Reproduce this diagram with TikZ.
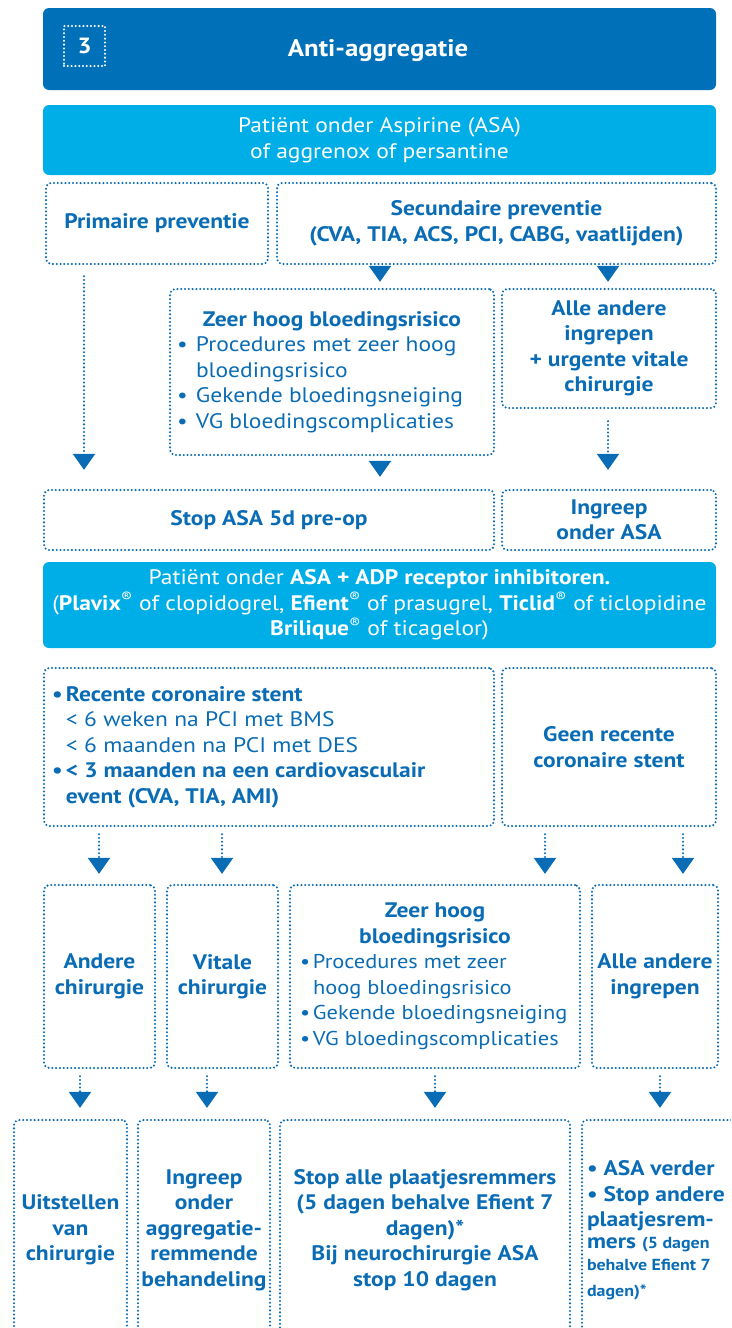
\documentclass[tikz,border=0pt]{standalone}
\usepackage{fontspec}
\setmainfont{PT Sans}[FakeStretch=1.12]
\usetikzlibrary{arrows.meta}
\definecolor{dblue}{HTML}{0070B9}
\definecolor{lblue}{HTML}{00AEE7}
\definecolor{tblue}{HTML}{0A6CB4}
\newcommand\fsz{\fontsize{21}{25.5}\selectfont}
\newcommand\bul{\makebox[19pt][l]{\textbullet}}
\newcommand\bulb{\makebox[13pt][l]{\textbullet}}
\tikzset{
  dots/.style={line width=2.3pt, dash pattern=on 0pt off 3.8pt, line cap=round},
  dbox/.style={draw=tblue, dots, rounded corners=5pt, text=tblue, font=\bfseries\fsz, align=center, inner sep=0pt},
  fbox/.style={fill=lblue, rounded corners=6pt, text=white, font=\fsz, align=center, inner sep=0pt},
  conn/.style={draw=tblue, dots, -{Triangle[width=22pt,length=16pt,sep=#1]}},
  conn/.default=0pt
}
\begin{document}
\begin{tikzpicture}[x=1pt,y=-1pt]
\useasboundingbox (0,0) rectangle (731,1328);
\clip (0,0) rectangle (731,1328);
% header
\node[fill=dblue, rounded corners=6pt, minimum width=673pt, minimum height=82pt, inner sep=0pt] (head) at (379.5,49) {};
\node[draw=white, dots, minimum width=41pt, minimum height=40pt, inner sep=0pt, text=white, font=\bfseries\fontsize{22}{26}\selectfont] (num) at (84.5,46) {3};
\node[text=white, font=\bfseries\fontsize{24}{28}\selectfont] (title) at (378,51) {Anti-aggregatie};
% block 1
\node[fbox, minimum width=673pt, minimum height=70pt] (pat1) at (379.5,140) {Patiënt onder Aspirine (ASA)\\of aggrenox of persantine};
\node[dbox, minimum width=222pt, minimum height=81pt] (prim) at (157,223.5) {Primaire preventie};
\node[dbox, minimum width=439pt, minimum height=81pt] (sec) at (496.5,223.5) {Secundaire preventie\\(CVA, TIA, ACS, PCI, CABG, vaatlijden)};
\node[dbox, minimum width=324pt, minimum height=166pt] (zh1) at (332,372) {\parbox{310pt}{\centering Zeer hoog bloedingsrisico\par\raggedright\mdseries
\bul Procedures met zeer hoog\\\hspace*{19pt}bloedingsrisico\\\bul Gekende bloedingsneiging\\\bul VG bloedingscomplicaties\par}};
\node[dbox, minimum width=214pt, minimum height=119pt] (alle1) at (609,348.5) {Alle andere\\ingrepen\\+ urgente vitale\\chirurgie};
\node[dbox, minimum width=450pt, minimum height=60pt] (stop1) at (269,520) {Stop ASA 5d pre-op};
\node[dbox, minimum width=214pt, minimum height=60pt] (ingr1) at (609,520) {Ingreep\\onder ASA};
% block 2
\node[fbox, minimum width=673pt, minimum height=86pt] (pat2) at (379.5,605) {Patiënt onder \textbf{ASA + ADP receptor inhibitoren.}\\(\textbf{Plavix}\textsuperscript{\textregistered} of clopidogrel, \textbf{Efient}\textsuperscript{\textregistered} of prasugrel, \textbf{Ticlid}\textsuperscript{\textregistered} of ticlopidine\\\textbf{Brilique}\textsuperscript{\textregistered} of ticagelor)};
\node[dbox, minimum width=450pt, minimum height=158pt] (rec) at (269,747) {\parbox{434pt}{\raggedright
\makebox[14pt][l]{\textbullet}Recente coronaire stent\\\mdseries\hspace*{14pt}< 6 weken na PCI met BMS\\\hspace*{14pt}< 6 maanden na PCI met DES\\\bfseries\makebox[14pt][l]{\textbullet}< 3 maanden na een cardiovasculair\\\hspace*{14pt}event (CVA, TIA, AMI)\par}};
\node[dbox, minimum width=214pt, minimum height=158pt] (geen) at (609,747) {Geen recente\\coronaire stent};
\node[dbox, minimum width=111pt, minimum height=183pt] (andere) at (99.5,976.5) {Andere\\chirurgie};
\node[dbox, minimum width=111pt, minimum height=183pt] (vitale) at (222.5,976.5) {Vitale\\chirurgie};
\node[dbox, minimum width=290pt, minimum height=183pt] (zh2) at (435,976.5) {\parbox{270pt}{\centering Zeer hoog\\bloedingsrisico\par\raggedright\mdseries\fontsize{20}{25.5}\selectfont
\bulb Procedures met zeer\\\hspace*{13pt}hoog bloedingsrisico\\\mbox{\bulb Gekende bloedingsneiging}\\\mbox{\bulb VG bloedingscomplicaties}\par}};
\node[dbox, minimum width=126pt, minimum height=183pt] (alle2) at (655,976.5) {Alle andere\\ingrepen};
% row 6
\node[dbox, minimum width=113pt, minimum height=220pt] (uit) at (70.5,1230) {Uitstellen\\van\\chirurgie};
\node[dbox, minimum width=132pt, minimum height=220pt] (ingr2) at (204,1230) {Ingreep\\onder\\aggregatie-\\remmende\\behandeling};
\node[dbox, minimum width=290pt, minimum height=220pt] (stop2) at (425,1230) {Stop alle plaatjesremmers\\(5 dagen behalve Efient 7\\dagen)*\\Bij neurochirurgie ASA\\stop 10 dagen};
\node[dbox, minimum width=158pt, minimum height=220pt, align=left] (asa) at (661,1230) {\parbox{148pt}{\raggedright
\textbullet\ ASA verder\\\textbullet\ Stop andere\\plaatjesrem-\\mers {\fontsize{16}{22}\selectfont(5 dagen\\behalve Efient 7\\dagen)*}\par}};
% column coordinates
\coordinate (xa) at (380,0);
\coordinate (xb) at (608,0);
\coordinate (xc) at (84,0);
\coordinate (xd) at (99,0);
\coordinate (xe) at (222,0);
\coordinate (xf) at (545,0);
\coordinate (xg) at (683,0);
\coordinate (xh) at (80,0);
\coordinate (xi) at (207,0);
\coordinate (xj) at (435,0);
\coordinate (xk) at (660,0);
% connectors
\draw[conn, shorten <=4pt, shorten >=6pt] (xa |- sec.south) -- (xa |- zh1.north);
\draw[conn, shorten <=4pt, shorten >=6pt] (xb |- sec.south) -- (xb |- alle1.north);
\draw[conn=10pt, shorten <=11pt, shorten >=9pt] (xc |- prim.south) -- (xc |- stop1.north);
\draw[conn, shorten <=7pt, shorten >=12pt] (xa |- zh1.south) -- (xa |- stop1.north);
\draw[conn=10pt, shorten <=12pt, shorten >=9pt] (xb |- alle1.south) -- (xb |- ingr1.north);
\draw[conn=3pt, shorten <=7pt, shorten >=7pt] (xd |- rec.south) -- (xd |- andere.north);
\draw[conn=3pt, shorten <=7pt, shorten >=7pt] (xe |- rec.south) -- (xe |- vitale.north);
\draw[conn=3pt, shorten <=7pt, shorten >=7pt] (xf |- geen.south) -- (xf |- zh2.north);
\draw[conn=3pt, shorten <=7pt, shorten >=7pt] (xg |- geen.south) -- (xg |- alle2.north);
\draw[conn=4pt, shorten <=7pt, shorten >=7pt] (xh |- andere.south) -- (xh |- uit.north);
\draw[conn=4pt, shorten <=7pt, shorten >=7pt] (xi |- vitale.south) -- (xi |- ingr2.north);
\draw[conn=4pt, shorten <=7pt, shorten >=7pt] (xj |- zh2.south) -- (xj |- stop2.north);
\draw[conn=4pt, shorten <=7pt, shorten >=7pt] (xk |- alle2.south) -- (xk |- asa.north);
\end{tikzpicture}
\end{document}
